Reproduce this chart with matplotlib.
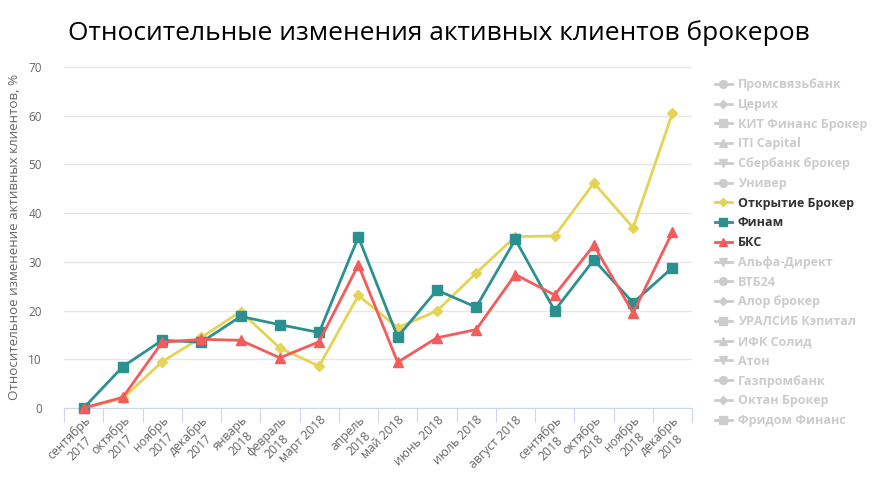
import numpy as np
import matplotlib
matplotlib.use('Agg')
import matplotlib.pyplot as plt
from matplotlib.lines import Line2D

plt.rcParams['font.family'] = ['Open Sans', 'DejaVu Sans']

# Months on the x axis
months = ['сентябрь\n2017', 'октябрь\n2017', 'ноябрь\n2017', 'декабрь\n2017',
          'январь\n2018', 'февраль\n2018', 'март 2018', 'апрель\n2018',
          'май 2018', 'июнь 2018', 'июль 2018', 'август 2018',
          'сентябрь\n2018', 'октябрь\n2018', 'ноябрь\n2018', 'декабрь\n2018']

# Relative change of active clients, %
otkrytie = [0, 2.0, 9.5, 14.5, 19.8, 12.3, 8.6, 23.1, 16.5, 19.9, 27.7, 35.2, 35.3, 46.2, 37.0, 60.5]
finam = [0, 8.5, 13.9, 13.5, 18.8, 17.1, 15.5, 35.1, 14.6, 24.2, 20.7, 34.6, 20.0, 30.4, 21.6, 28.8]
bks = [0, 2.2, 13.5, 14.1, 13.9, 10.3, 13.6, 29.4, 9.4, 14.4, 16.1, 27.4, 23.2, 33.4, 19.5, 36.1]

# Legend entries (all brokers); only three are shown on the chart
brokers = ['Промсвязьбанк', 'Церих', 'КИТ Финанс Брокер', 'ITI Capital', 'Сбербанк брокер',
           'Универ', 'Открытие Брокер', 'Финам', 'БКС', 'Альфа-Директ', 'ВТБ24',
           'Алор брокер', 'УРАЛСИБ Кэпитал', 'ИФК Солид', 'Атон', 'Газпромбанк',
           'Октан Брокер', 'Фридом Финанс']
symbols = ['o', 'D', 's', '^', 'v']
shown = {'Открытие Брокер': ('#e4d354', otkrytie),
         'Финам': ('#2b908f', finam),
         'БКС': ('#f45b5b', bks)}

fig = plt.figure(figsize=(8.84, 4.8), dpi=100)
ax = fig.add_axes([64/884, 1-408/480, 628/884, 341/480])

x = np.arange(len(months))
handles = []
for i, name in enumerate(brokers):
    mk = symbols[i % 5]
    ms = 7 if mk != 'D' else 5.5
    if name in shown:
        col, vals = shown[name]
        ax.plot(x, vals, color=col, lw=2, marker=mk, ms=ms, mec=col, zorder=3+i, clip_on=False)
        handles.append(Line2D([], [], color=col, lw=2, marker=mk, ms=ms))
    else:
        handles.append(Line2D([], [], color='#cccccc', lw=2, marker=mk, ms=ms))

ax.set_xlim(-0.5, len(months)-0.5)
ax.set_ylim(0, 70)
ax.set_yticks(np.arange(0, 71, 10))
ax.yaxis.grid(True, color='#e6e6e6', lw=1)
ax.set_axisbelow(True)
for s in ['top', 'right', 'left']:
    ax.spines[s].set_visible(False)
ax.spines['bottom'].set_color('#ccd6eb')
ax.tick_params(axis='y', length=0, pad=16, labelsize=8.5, labelcolor='#666666')

ax.set_xticks(np.arange(-0.5, len(months)), minor=False)
ax.set_xticklabels([])
ax.tick_params(axis='x', which='major', length=10, color='#ccd6eb', direction='out')
ax.set_xticks(x, minor=True)
ax.set_xticklabels(months, minor=True, rotation=45, ha='right', va='top',
                   rotation_mode='anchor', multialignment='center',
                   fontsize=8.8, color='#666666')
ax.tick_params(axis='x', which='minor', length=0, pad=4)

fig.text(0.497, 1-33/480, 'Относительные изменения активных клиентов брокеров',
         ha='center', va='center', fontsize=19, color='#000000')
fig.text(15/884, 1-237/480, 'Относительное изменение активных клиентов, %',
         rotation=90, ha='center', va='center', fontsize=9.6, color='#666666')

leg = ax.legend(handles, brokers, loc='upper left', bbox_to_anchor=(709/884, 1-72/480),
                bbox_transform=fig.transFigure, frameon=False, prop={'weight': 'bold', 'size': 9},
                handlelength=1.3, handletextpad=0.5, labelspacing=0.54, borderpad=0,
                markerscale=0.8)
for t, name in zip(leg.get_texts(), brokers):
    t.set_color('#333333' if name in shown else '#cccccc')

fig.savefig('out.png', dpi=100)
